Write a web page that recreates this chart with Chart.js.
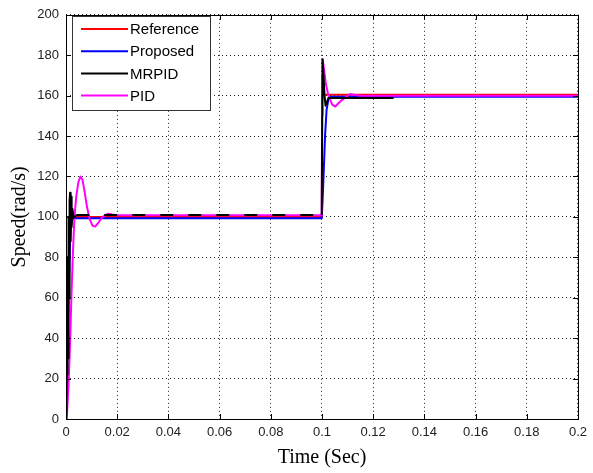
<!DOCTYPE html>
<html>
<head>
<meta charset="utf-8">
<script src="https://cdn.jsdelivr.net/npm/chart.js@4/dist/chart.umd.min.js"></script>
<style>
  html, body { margin: 0; padding: 0; background: #fff; }
  #wrap { width: 593px; height: 473px; }
</style>
</head>
<body>
<div id="wrap"><canvas id="speed-chart" width="593" height="473"></canvas></div>
<script>
    'use strict';

    // time axis ticks (sec) and speed axis ticks (rad/s)
    var xTicks = [0, 0.02, 0.04, 0.06, 0.08, 0.1, 0.12, 0.14, 0.16, 0.18, 0.2];
    var yTicks = [0, 20, 40, 60, 80, 100, 120, 140, 160, 180, 200];

    // Reference speed
    var refT = [0, 0, 0.0999, 0.1, 0.2];
    var refV = [0, 100, 100, 160.5, 160.5];

    // Proposed controller
    var propT = [0, 0.0004, 0.0008, 0.0012, 0.0016, 0.002, 0.0024, 0.003, 0.0999, 0.1003, 0.1007, 0.1012, 0.1018, 0.1025, 0.1032, 0.2];
    var propV = [0, 22, 47, 70, 88, 96, 98.8, 99.3, 99.3, 110, 123, 140, 153, 158, 159.5, 159.5];

    // MRPID controller
    var mrT = [0, 0.0002, 0.0004, 0.0006, 0.0008, 0.001, 0.0012, 0.0014, 0.0016, 0.0018, 0.002, 0.0022, 0.0025, 0.003, 0.004,
               0.0999, 0.1001, 0.1002, 0.1006, 0.101, 0.1014, 0.102, 0.1025, 0.128];
    var mrV = [0, 45, 22, 80, 30, 100, 60, 108, 112, 88, 110, 95, 104, 99.5, 100.9,
               100.9, 150, 178, 170, 160, 155, 157, 158.8, 158.8];

    // conventional PID controller
    var pidT = [0, 0.0004, 0.0011, 0.0016, 0.0021, 0.0027, 0.0033, 0.004, 0.0048, 0.0056, 0.0064, 0.0072, 0.0082, 0.0092,
                0.0104, 0.0114, 0.0126, 0.0138, 0.0152, 0.0165, 0.018, 0.02,
                0.0999, 0.1001, 0.1003, 0.1007, 0.1015, 0.1025, 0.104, 0.1052, 0.107, 0.109, 0.111, 0.113, 0.115, 0.2];
    var pidV = [0, 3, 20, 38, 60, 82, 100, 110, 117, 120, 118.5, 113, 105, 99,
                95.6, 95.2, 97, 99.3, 100.8, 101.6, 101.2, 100.8,
                100.8, 170, 178, 174, 166, 160, 155.5, 154.6, 157, 159, 160.8, 160.3, 160, 160];

    var labels = ['Reference', 'Proposed', 'MRPID', 'PID'];
    var colors = ['#ff0000', '#0000ff', '#000000', '#ff00ff'];

    function pts(t, v) {
        return t.map(function (x, i) { return { x: x, y: v[i] }; });
    }

    var left = 66, bottom = 54;

    // frame, inward tick marks and legend box (matlab style)
    var matlabFrame = {
        id: 'matlabFrame',
        afterDatasetsDraw: function (chart) {
            var ctx = chart.ctx, a = chart.chartArea;
            var xs = chart.scales.x, ys = chart.scales.y;
            ctx.save();
            ctx.strokeStyle = '#000';
            ctx.lineWidth = 1;
            ctx.beginPath();
            xTicks.forEach(function (t) {
                var px = Math.round(xs.getPixelForValue(t)) + 0.5;
                ctx.moveTo(px, a.bottom); ctx.lineTo(px, a.bottom - 5);
                ctx.moveTo(px, a.top); ctx.lineTo(px, a.top + 5);
            });
            yTicks.forEach(function (v) {
                var py = Math.round(ys.getPixelForValue(v)) + 0.5;
                ctx.moveTo(a.left, py); ctx.lineTo(a.left + 5, py);
                ctx.moveTo(a.right, py); ctx.lineTo(a.right - 5, py);
            });
            ctx.stroke();
            ctx.strokeRect(Math.round(a.left) + 0.5, Math.round(a.top) + 0.5,
                Math.round(a.right - a.left), Math.round(a.bottom - a.top));

            // legend
            var bx = 72.5, by = 16.5, bw = 138, bh = 94;
            ctx.fillStyle = '#fff';
            ctx.fillRect(bx, by, bw, bh);
            ctx.strokeStyle = '#333';
            ctx.strokeRect(bx, by, bw, bh);
            ctx.font = '15px "Liberation Sans", Arial, sans-serif';
            ctx.textBaseline = 'middle';
            chart.data.datasets.forEach(function (ds, i) {
                var ry = 29 + i * 22.2;
                ctx.strokeStyle = ds.borderColor;
                ctx.lineWidth = 2;
                ctx.beginPath();
                ctx.moveTo(81, ry); ctx.lineTo(128, ry);
                ctx.stroke();
                ctx.fillStyle = '#000';
                ctx.fillText(ds.label, 130, ry + 1);
            });
            ctx.restore();
        }
    };

    var ctx = document.getElementById('speed-chart').getContext('2d');
    var speedChart = new Chart(ctx, {
        type: 'line',
        data: {
            datasets: [{
                label: labels[0],
                data: pts(refT, refV),
                borderColor: colors[0],
                backgroundColor: colors[0],
                borderWidth: 2,
                order: 3
            },
            {
                label: labels[1],
                data: pts(propT, propV),
                borderColor: colors[1],
                backgroundColor: colors[1],
                borderWidth: 2,
                order: 2
            },
            {
                label: labels[2],
                data: pts(mrT, mrV),
                borderColor: colors[2],
                backgroundColor: colors[2],
                borderWidth: 2,
                order: 0,
                segment: {
                    borderDash: function (c) {
                        return (c.p0.parsed.x >= 0.004 && c.p1.parsed.x <= 0.0999) ? [13, 15] : undefined;
                    }
                }
            },
            {
                label: labels[3],
                data: pts(pidT, pidV),
                borderColor: colors[3],
                backgroundColor: colors[3],
                borderWidth: 2,
                order: 1
            }]
        },
        options: {
            responsive: false,
            animation: false,
            parsing: false,
            normalized: true,
            elements: {
                point: { radius: 0 },
                line: { tension: 0, borderJoinStyle: 'round' }
            },
            layout: { padding: { top: 8, right: 12, left: 0, bottom: 0 } },
            plugins: {
                legend: { display: false },
                tooltip: { enabled: false }
            },
            scales: {
                x: {
                    type: 'linear',
                    min: 0,
                    max: 0.2,
                    afterBuildTicks: function (s) {
                        s.ticks = xTicks.map(function (v) { return { value: v }; });
                    },
                    afterFit: function (s) { s.height = bottom; },
                    grid: { color: '#222', lineWidth: 1, drawTicks: false },
                    border: { display: false, dash: [1, 3] },
                    ticks: {
                        padding: 6,
                        color: '#222',
                        maxRotation: 0,
                        autoSkip: false,
                        font: { family: '"Liberation Sans", Arial, sans-serif', size: 13 },
                        callback: function (v) { return String(Number(v.toFixed(2))); }
                    },
                    title: {
                        display: true,
                        text: 'Time (Sec)',
                        color: '#000',
                        padding: { top: 0, bottom: 3 },
                        font: { family: '"Liberation Serif", "Times New Roman", serif', size: 20 }
                    }
                },
                y: {
                    min: 0,
                    max: 200,
                    afterBuildTicks: function (s) {
                        s.ticks = yTicks.map(function (v) { return { value: v }; });
                    },
                    afterFit: function (s) { s.width = left; },
                    grid: { color: '#222', lineWidth: 1, drawTicks: false },
                    border: { display: false, dash: [1, 3] },
                    ticks: {
                        padding: 7,
                        color: '#222',
                        autoSkip: false,
                        font: { family: '"Liberation Sans", Arial, sans-serif', size: 13 }
                    },
                    title: {
                        display: true,
                        text: 'Speed(rad/s)',
                        color: '#000',
                        padding: { top: 8, bottom: 0 },
                        font: { family: '"Liberation Serif", "Times New Roman", serif', size: 20 }
                    }
                }
            }
        },
        plugins: [matlabFrame]
    });
</script>
</body>
</html>
